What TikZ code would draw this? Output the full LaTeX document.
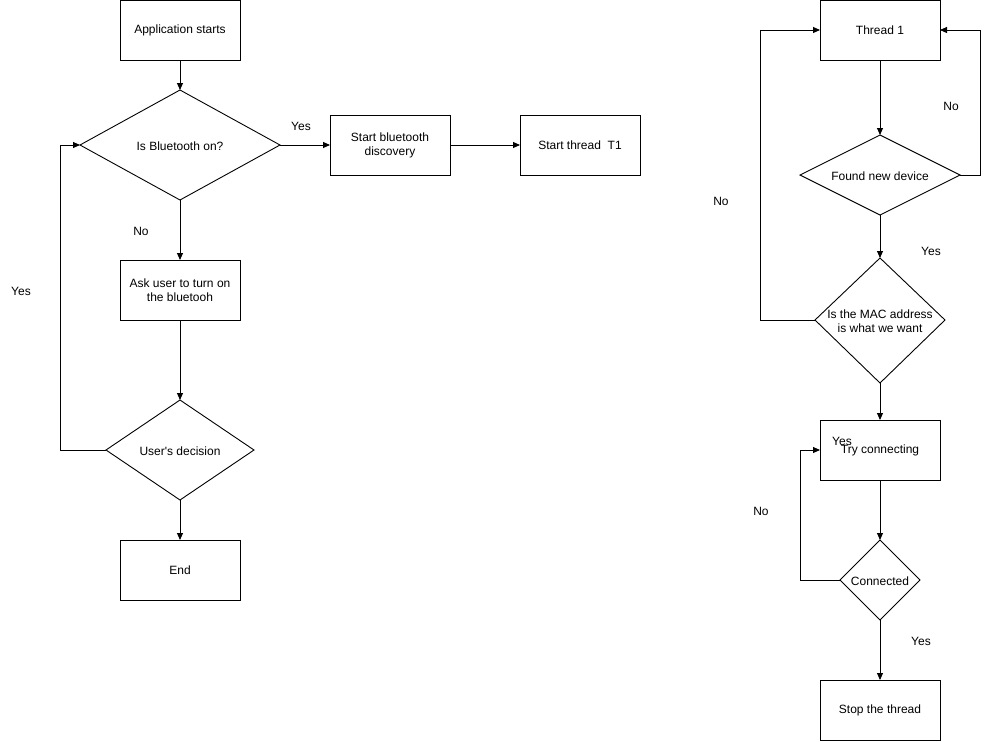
\documentclass[tikz,border=0pt]{standalone}
\usepackage{fontspec}
\setmainfont{Liberation Sans}
\usetikzlibrary{shapes.geometric,arrows.meta}
\begin{document}
\begin{tikzpicture}[x=1pt,y=-1pt,
  every node/.style={font=\fontsize{12}{14}\selectfont, inner sep=0pt, outer sep=0pt},
  procbox/.style={draw, line width=0.9pt, minimum width=120pt, minimum height=60pt, align=center},
  lbl/.style={font=\fontsize{12}{14}\selectfont},
  flow/.style={draw, line width=0.9pt, -{Triangle[length=7pt,width=6pt]}},
]
\useasboundingbox (0,0) rectangle (989,742);
\fill[white] (0,0) rectangle (989,742);
% left column
\node[procbox] (app) at (180,30) {Application starts};
\draw[line width=0.9pt] (80,145) -- (180,90) -- (280,145) -- (180,200) -- cycle;
\node (bt) at (180,146) {Is Bluetooth on?};
\coordinate (btN) at (180,90); \coordinate (btS) at (180,200);
\coordinate (btW) at (80,145); \coordinate (btE) at (280,145);
\node[procbox] (disc) at (390,145) {Start bluetooth\\discovery};
\node[procbox] (t1) at (580,145) {Start thread\ \ T1};
\node[procbox] (ask) at (180,290) {Ask user to turn on\\the bluetooh};
\draw[line width=0.9pt] (106,450) -- (180,400) -- (254,450) -- (180,500) -- cycle;
\node (ud) at (180,451) {User\textquotesingle s decision};
\coordinate (udN) at (180,400); \coordinate (udS) at (180,500); \coordinate (udW) at (106,450);
\node[procbox] (end) at (180,570) {End};

\draw[flow] (app) -- (btN);
\draw[flow] (btE) -- (disc);
\draw[flow] (disc) -- (t1);
\draw[flow] (btS) -- (ask);
\draw[flow] (ask) -- (udN);
\draw[flow] (udS) -- (end);
\draw[flow] (udW) -- (60,450) -- (60,145) -- (btW);
\node[lbl] (yes1) at (301,126) {Yes};
\node[lbl] (no1) at (141,231) {No};
\node[lbl] (yes2) at (21,291) {Yes};

% right column
\node[procbox] (th) at (880,30) {Thread 1};
\draw[line width=0.9pt] (800,175) -- (880,135) -- (960,175) -- (880,215) -- cycle;
\node (fd) at (880,176) {Found new device};
\coordinate (fdN) at (880,135); \coordinate (fdS) at (880,215); \coordinate (fdE) at (960,175);
\draw[line width=0.9pt] (815,320) -- (880,258) -- (945,320) -- (880,383) -- cycle;
\node[align=center] (mac) at (880,321) {Is the MAC address\\is what we want};
\coordinate (macN) at (880,258); \coordinate (macS) at (880,383); \coordinate (macW) at (815,320);
\node[procbox] (try) at (880,450) {Try connecting};
\draw[line width=0.9pt] (840,580) -- (880,540) -- (920,580) -- (880,620) -- cycle;
\node (con) at (880,581) {Connected};
\coordinate (conN) at (880,540); \coordinate (conS) at (880,620); \coordinate (conW) at (840,580);
\node[procbox] (stop) at (880,710) {Stop the thread};

\draw[flow] (th) -- (fdN);
\draw[flow] (fdE) -- (980,175) -- (980,30) -- (th.east);
\draw[flow] (fdS) -- (macN);
\draw[flow] (macW) -- (760,320) -- (760,30) -- (th.west);
\draw[flow] (macS) -- (try);
\draw[flow] (try) -- (conN);
\draw[flow] (conW) -- (800,580) -- (800,450) -- (try.west);
\draw[flow] (conS) -- (stop);
\node[lbl] (no2) at (951,106) {No};
\node[lbl] (yes3) at (931,251) {Yes};
\node[lbl] (no3) at (721,201) {No};
\node[lbl] (yes4) at (842,441) {Yes};
\node[lbl] (no4) at (761,511) {No};
\node[lbl] (yes5) at (921,641) {Yes};
\end{tikzpicture}
\end{document}
